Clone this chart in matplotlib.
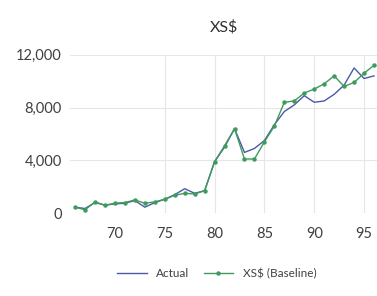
import matplotlib
matplotlib.use("Agg")
import matplotlib.pyplot as plt

plt.rcParams['font.family'] = ['Lato', 'DejaVu Sans']

# years 1966 - 1996 (shown as 2-digit)
years = list(range(66, 97))
actual = [450, 350, 800, 600, 700, 750, 950, 450, 800, 1050, 1400, 1850, 1500, 1700,
          3900, 5000, 6400, 4600, 4900, 5500, 6700, 7700, 8200, 8900, 8400, 8500,
          9000, 9700, 11000, 10200, 10400]
baseline = [450, 250, 850, 600, 750, 800, 1000, 750, 850, 1050, 1350, 1500, 1450, 1700,
            3900, 5100, 6400, 4100, 4100, 5400, 6600, 8400, 8500, 9100, 9400, 9800,
            10400, 9600, 9900, 10600, 11200]
xticks = [70, 75, 80, 85, 90, 95]
xgrid = [75, 80, 85, 90, 95]
yticks = [0, 4000, 8000, 12000]

fig = plt.figure(figsize=(3.77, 2.96), dpi=100)
ax = fig.add_axes([0.186, 0.28, 0.814, 0.535])

ax.plot(years, actual, color='#4a5aa8', lw=1.0, label='Actual')
ax.plot(years, baseline, color='#3f9b5c', lw=1.0, marker='o', ms=2.2, label='XS$ (Baseline)')

ax.set_xlim(65.5, 96.3)
ax.set_ylim(0, 12000)
ax.set_xticks(xticks)
ax.set_yticks(yticks)
ax.set_yticklabels([f'{v:,}' for v in yticks])
ax.tick_params(axis='y', length=0, labelsize=10.5, colors='#404040', pad=6)
ax.tick_params(axis='x', length=0, labelsize=10.5, colors='#404040', pad=10)

ax.grid(True, axis='y', color='#e6e6e6', lw=0.8)
for g in xgrid:
    ax.axvline(g, color='#e6e6e6', lw=0.8, zorder=0)
ax.set_axisbelow(True)
for s in ax.spines.values():
    s.set_visible(False)

ax.set_title('XS$', fontsize=11.5, color='#303030', pad=17)

fig.legend(loc='lower center', bbox_to_anchor=(0.575, 0.02), ncol=2, frameon=False,
           fontsize=8.5, handlelength=2.5, columnspacing=1.2, labelcolor='#404040')

fig.savefig('out.png', dpi=100)
